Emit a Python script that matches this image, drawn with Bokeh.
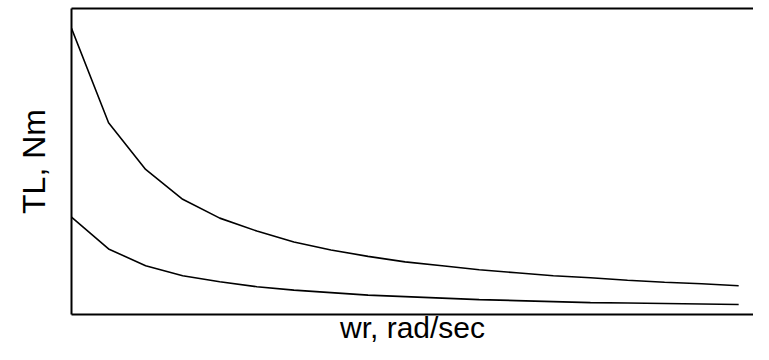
from bokeh.plotting import figure
from bokeh.models import LinearAxis, FixedTicker, Range1d
from bokeh.embed import file_html
from bokeh.resources import INLINE

wr = [1, 2, 3, 4, 5, 6, 7, 8, 9, 10, 11, 12, 13, 14, 15, 16, 17, 18, 19]
tl_upper = [2.88, 1.93, 1.46, 1.16, 0.97, 0.84, 0.73, 0.65, 0.585, 0.53,
            0.49, 0.45, 0.42, 0.39, 0.37, 0.345, 0.325, 0.31, 0.29]
tl_lower = [0.98, 0.66, 0.49, 0.39, 0.33, 0.28, 0.245, 0.22, 0.195, 0.18,
            0.165, 0.15, 0.14, 0.13, 0.12, 0.115, 0.11, 0.105, 0.10]
x_label = "wr, rad/sec"
y_label = "TL, Nm"

p = figure(width=753, height=346, output_backend="svg", toolbar_location=None,
           x_range=Range1d(1, 19.4), y_range=Range1d(0, 3.08),
           x_axis_location=None, y_axis_location=None,
           min_border_left=71, min_border_right=0, min_border_top=8,
           min_border_bottom=0)
p.outline_line_color = None
p.grid.visible = False
p.background_fill_color = "white"

def make_axis(label=None, size="32px"):
    ax = LinearAxis(ticker=FixedTicker(ticks=[]))
    ax.axis_line_width = 2
    ax.axis_line_color = "black"
    ax.major_tick_line_color = None
    ax.minor_tick_line_color = None
    ax.major_tick_out = 0
    ax.major_tick_in = 0
    ax.minor_tick_out = 0
    ax.minor_tick_in = 0
    ax.major_label_standoff = 0
    ax.major_label_text_font_size = "0px"
    if label:
        ax.axis_label = label
        ax.axis_label_text_font = "Liberation Sans"
        ax.axis_label_text_font_style = "normal"
        ax.axis_label_text_font_size = size
        ax.axis_label_text_color = "black"
    return ax

left = make_axis(y_label, "32px")
left.axis_label_standoff = 20
bottom = make_axis(x_label, "30px")
bottom.axis_label_standoff = -4
top = make_axis()
p.add_layout(left, "left")
p.add_layout(bottom, "below")
p.add_layout(top, "above")

p.line(wr, tl_upper, line_color="black", line_width=1.6)
p.line(wr, tl_lower, line_color="black", line_width=1.6)

open("out.html", "w").write(file_html(p, INLINE))
